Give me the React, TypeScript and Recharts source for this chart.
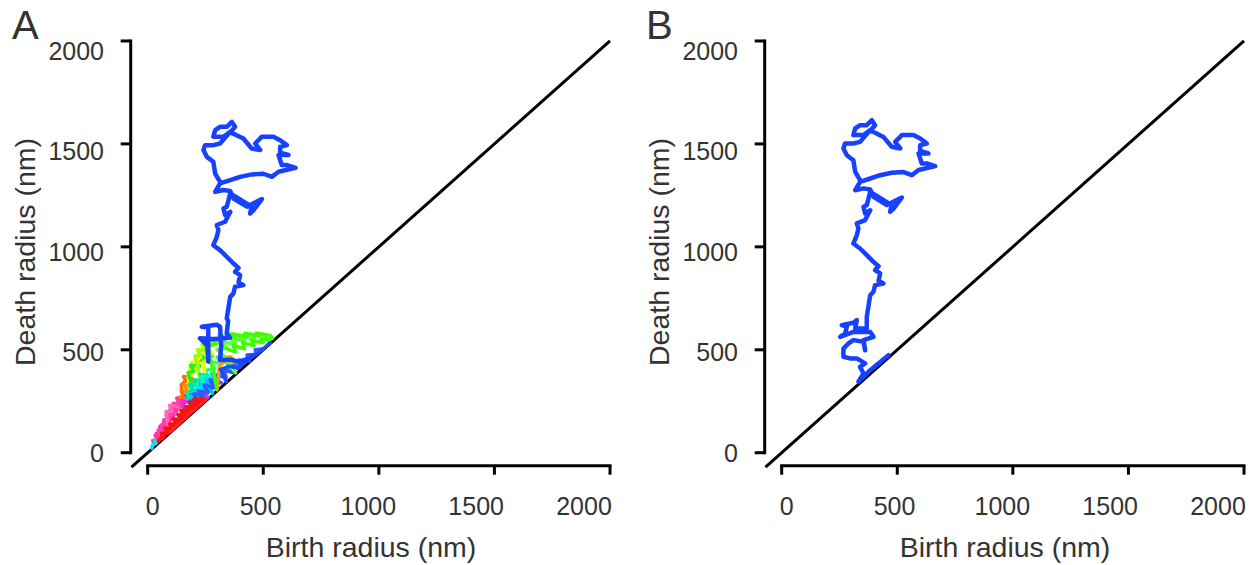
import { ScatterChart, Scatter, XAxis, YAxis, ReferenceLine } from "recharts";

const FONT = "'Liberation Sans', Arial, Helvetica, sans-serif";
const TEXT = "#333";
const BLUE = "#1840ff";

const axisTicks = [0, 500, 1000, 1500, 2000];
const xTitle = "Birth radius (nm)";
const yTitle = "Death radius (nm)";

// persistence path of the long-lived feature, panel B  [birth, death]
const blueB = [
  [462, 474], [383, 401], [332, 345], [354, 385], [339, 417], [361, 434], [325, 458], [296, 458],
  [267, 466], [267, 506], [289, 531], [310, 547], [354, 539], [361, 498], [354, 547], [397, 563],
  [383, 587], [310, 587], [253, 563], [274, 579], [282, 612], [260, 620], [310, 631], [325, 644],
  [318, 604], [368, 604], [368, 660], [375, 709], [383, 765], [397, 782], [404, 814], [440, 822],
  [419, 835], [426, 871], [404, 887], [419, 906], [397, 927], [368, 960], [339, 992], [310, 1016],
  [325, 1057], [332, 1089], [325, 1114], [361, 1130], [383, 1178], [361, 1162], [354, 1194], [368, 1203],
  [383, 1267], [476, 1203], [469, 1170], [484, 1186], [520, 1240], [455, 1203], [397, 1243], [383, 1279],
  [354, 1284], [318, 1275], [339, 1316], [383, 1332], [426, 1348], [476, 1360], [527, 1363], [563, 1348],
  [592, 1373], [664, 1392], [628, 1405], [606, 1405], [592, 1454], [635, 1454], [599, 1466], [599, 1494],
  [628, 1502], [599, 1526], [570, 1543], [520, 1543], [491, 1510], [513, 1478], [476, 1486], [440, 1534],
  [404, 1554], [383, 1564], [404, 1591], [390, 1615], [368, 1591], [339, 1591], [318, 1575], [310, 1543],
  [354, 1543], [383, 1567], [339, 1510], [310, 1502], [274, 1502], [267, 1478], [282, 1445], [310, 1421],
  [318, 1364], [339, 1324],
];

// same feature in panel A
const blueA = [
  [455, 470], [400, 440], [360, 452], [313, 450], [318, 520], [313, 612], [298, 622], [234, 612],
  [262, 608], [262, 442], [258, 520], [226, 556], [290, 552], [356, 558], [342, 580], [348, 640],
  [342, 652], [349, 701], [357, 757], [371, 774], [378, 806], [414, 814], [393, 827], [400, 863],
  [378, 879], [393, 898], [371, 919], [342, 952], [313, 984], [284, 1008], [299, 1049], [306, 1081],
  [299, 1106], [335, 1122], [357, 1170], [335, 1154], [328, 1186], [342, 1195], [357, 1259], [450, 1195],
  [443, 1162], [458, 1178], [494, 1232], [429, 1195], [371, 1235], [357, 1271], [328, 1276], [292, 1267],
  [313, 1308], [357, 1324], [400, 1340], [450, 1352], [501, 1355], [537, 1340], [566, 1365], [640, 1384],
  [602, 1397], [580, 1397], [566, 1446], [609, 1446], [573, 1458], [573, 1486], [602, 1494], [573, 1518],
  [544, 1535], [494, 1535], [465, 1502], [487, 1470], [450, 1478], [414, 1526], [378, 1546], [357, 1556],
  [378, 1583], [364, 1607], [342, 1583], [313, 1583], [292, 1567], [284, 1535], [328, 1535], [357, 1559],
  [313, 1502], [284, 1494], [248, 1494], [241, 1470], [256, 1437], [284, 1413], [292, 1356], [313, 1316],
];

// short-lived features, panel A
const purpleA = [[170, 178], [150, 250], [185, 245], [165, 280], [205, 275], [185, 300], [230, 290], [215, 315], [255, 300], [240, 325], [270, 310]];
const purpleB = [[260, 268], [230, 290], [270, 300], [250, 320], [290, 318], [275, 345], [320, 340]];
const tealA = [[190, 200], [170, 290], [195, 300], [180, 330], [215, 325], [200, 355], [240, 350], [225, 380], [260, 375]];
const tealB = [[230, 238], [215, 330], [245, 345], [230, 370], [270, 365]];
const cyanA = [[205, 215], [185, 275], [220, 270], [200, 305], [240, 300], [225, 335], [265, 325], [250, 360], [290, 350], [275, 385], [310, 375]];
const cyanB = [[280, 288], [255, 340], [300, 350], [280, 380], [330, 375], [310, 405], [360, 400], [345, 430], [390, 430]];
const blueFillA = [[240, 248], [220, 300], [260, 290], [245, 330], [285, 315], [270, 355], [310, 340], [300, 375], [340, 365], [330, 400], [370, 390], [365, 425], [400, 415], [395, 450], [440, 445], [430, 475], [470, 478], [465, 500], [500, 505]];
const blueFillB = [[200, 206], [180, 250], [215, 255], [200, 285], [240, 280]];
const blueDiagA = [[340, 345], [315, 405], [355, 420], [390, 410], [420, 440], [460, 470], [500, 505], [530, 535]];
const orangeA = [[150, 158], [135, 270], [160, 265], [145, 300], [175, 298], [160, 325], [190, 320], [170, 350], [200, 345], [185, 372]];
const orangeMid = [[160, 168], [145, 330], [165, 350], [155, 370], [185, 365]];
const yellowA = [[195, 205], [175, 370], [195, 380], [180, 410], [205, 405], [190, 440], [220, 430], [205, 460], [240, 455], [225, 480]];
const yellowTop = [[230, 240], [215, 450], [230, 470], [220, 500], [245, 505]];
const greenA = [[215, 225], [175, 390], [200, 395], [185, 425], [225, 420], [210, 450], [250, 445], [235, 475], [280, 470], [265, 500]];
const greenMid = [[280, 290], [250, 400], [290, 410], [270, 440], [320, 435], [300, 465], [350, 462]];
const yellowB = [[260, 268], [240, 440], [265, 455], [245, 485], [280, 480], [265, 505]];
const limeA = [[250, 258], [205, 470], [230, 475], [215, 500], [255, 495], [235, 525], [280, 520], [260, 545], [310, 540]];
const orangeB = [[300, 305], [310, 420], [335, 445], [320, 460], [360, 465], [375, 445], [355, 430]];
const greenTopA = [[300, 310], [260, 520], [300, 530], [270, 555], [330, 545], [310, 570], [380, 560], [360, 578], [430, 565], [420, 580], [480, 568], [470, 582], [530, 570], [540, 555], [490, 550], [500, 535], [450, 545], [460, 520], [410, 535], [420, 505], [370, 520], [380, 490], [340, 505]];
const greenTopB = [[380, 388], [330, 470], [300, 500], [340, 510], [320, 535], [380, 530], [360, 555], [420, 545], [400, 565], [460, 555], [450, 575], [510, 560], [525, 540]];
const magentaA = [[45, 60], [38, 95], [62, 92], [52, 125], [80, 120], [68, 150], [95, 148], [80, 180], [110, 175], [95, 205], [125, 200], [112, 230], [150, 228], [130, 255], [165, 250]];
const pinkA = [[28, 40], [22, 60], [40, 58], [32, 85], [55, 80], [45, 110], [70, 105], [58, 135], [85, 130], [70, 160], [100, 158], [85, 190], [115, 185], [98, 215], [130, 212], [110, 240], [140, 236], [125, 265]];
const pinkB = [[90, 100], [80, 200], [105, 200], [95, 230], [130, 225]];
const redA = [[40, 48], [55, 70], [65, 68], [60, 95], [90, 95], [75, 120], [110, 118], [95, 140], [130, 138], [110, 165], [150, 160], [130, 185], [170, 182], [145, 205], [190, 202], [165, 225], [210, 222], [180, 245], [230, 242], [200, 262], [245, 258]];
const redB = [[70, 78], [85, 110], [100, 108], [115, 140], [125, 132], [140, 170], [150, 158], [165, 195], [175, 185], [190, 218], [200, 208], [215, 240], [225, 232], [235, 265], [250, 255]];
const redC = [[100, 104], [120, 125], [140, 145], [160, 168], [185, 192], [205, 212], [228, 236], [250, 256]];
const cyanTipA = [[18, 22], [22, 40], [35, 45], [30, 60]];

type Series = { pts: number[][]; color: string; width: number };

const W = 3.5;
const seriesA: Series[] = [
  { pts: orangeA, color: "#ff8a00", width: W },
  { pts: orangeMid, color: "#ff7000", width: W },
  { pts: yellowA, color: "#fff000", width: W },
  { pts: greenA, color: "#22f022", width: W },
  { pts: greenMid, color: "#30ff60", width: W },
  { pts: yellowB, color: "#e8ff00", width: W },
  { pts: yellowTop, color: "#ffff00", width: W },
  { pts: limeA, color: "#9aff00", width: W },
  { pts: purpleA, color: "#9b30ff", width: W },
  { pts: purpleB, color: "#a040ff", width: W },
  { pts: tealA, color: "#00e8a0", width: W },
  { pts: tealB, color: "#00ffc0", width: W },
  { pts: cyanA, color: "#00d0ff", width: W },
  { pts: cyanB, color: "#00bfff", width: W },
  { pts: blueFillA, color: "#2a5cff", width: W },
  { pts: blueFillB, color: "#3060ff", width: W },
  { pts: orangeB, color: "#ff9d00", width: W },
  { pts: greenTopB, color: "#5cff3c", width: W },
  { pts: greenTopA, color: "#3cff00", width: W },
  { pts: blueDiagA, color: "#1f4bff", width: W },
  { pts: magentaA, color: "#ff20e0", width: W },
  { pts: pinkA, color: "#ff3fa0", width: W },
  { pts: pinkB, color: "#ff66b3", width: W },
  { pts: redB, color: "#ff0040", width: W },
  { pts: redA, color: "#ff1010", width: W },
  { pts: redC, color: "#ff2020", width: W },
  { pts: cyanTipA, color: "#00e5ff", width: W },
  { pts: blueA, color: BLUE, width: 4.5 },
];

const seriesB: Series[] = [{ pts: blueB, color: BLUE, width: 4.5 }];

const NoDot = () => <g />;

function XTick(props: any) {
  const { x, payload } = props;
  const v = payload.value;
  return (
    <text x={x + 5 - (31 * v) / 2000} y={515} textAnchor="middle" fontSize={25} fill={TEXT} fontFamily={FONT}>
      {v}
    </text>
  );
}

function YTick(props: any) {
  const { y, payload } = props;
  const v = payload.value;
  return (
    <text x={104} y={y + 9 + (10 * v) / 2000} textAnchor="end" fontSize={25} fill={TEXT} fontFamily={FONT}>
      {v}
    </text>
  );
}

function Panel({ letter, series }: { letter: string; series: Series[] }) {
  const black = { stroke: "#000", strokeWidth: 3, strokeLinecap: "square" as const, ifOverflow: "visible" as const };
  return (
    <ScatterChart width={634} height={565} margin={{ top: 24.5, right: 5.5, bottom: 0, left: 0 }}>
      <XAxis
        type="number"
        dataKey="x"
        domain={[-73.5, 2080]}
        allowDataOverflow
        ticks={axisTicks}
        interval={0}
        height={99.3}
        axisLine={false}
        stroke="#000"
        tickSize={9}
        tickLine={{ stroke: "#000", strokeWidth: 3 }}
        tick={XTick}
        label={{
          content: () => (
            <text x={371} y={557} textAnchor="middle" fontSize={28.5} fill={TEXT} fontFamily={FONT}>
              {xTitle}
            </text>
          ),
        }}
      />
      <YAxis
        type="number"
        dataKey="y"
        domain={[-63, 2080]}
        allowDataOverflow
        ticks={axisTicks}
        interval={0}
        width={130.7}
        axisLine={false}
        stroke="#000"
        tickSize={10}
        tickLine={{ stroke: "#000", strokeWidth: 3 }}
        tick={YTick}
        label={{
          content: () => (
            <g>
              <text x={12} y={39} fontSize={40} fill={TEXT} fontFamily={FONT}>
                {letter}
              </text>
              <text
                x={35}
                y={252}
                transform="rotate(-90, 35, 252)"
                textAnchor="middle"
                fontSize={28.5}
                fill={TEXT}
                fontFamily={FONT}
              >
                {yTitle}
              </text>
            </g>
          ),
        }}
      />
      <ReferenceLine segment={[{ x: 0, y: -63 }, { x: 2000, y: -63 }]} {...black} />
      <ReferenceLine segment={[{ x: -73.5, y: 0 }, { x: -73.5, y: 2000 }]} {...black} />
      <ReferenceLine
        segment={[{ x: -70, y: -70 }, { x: 2000, y: 2000 }]}
        stroke="#000"
        strokeWidth={3}
        ifOverflow="visible"
      />
      {series.map((s, i) => (
        <Scatter
          key={i}
          data={s.pts.map(([x, y]) => ({ x, y }))}
          fill={s.color}
          shape={NoDot}
          line={{ stroke: s.color, strokeWidth: s.width, strokeLinejoin: "round", strokeLinecap: "round" }}
          isAnimationActive={false}
        />
      ))}
    </ScatterChart>
  );
}

export default function App() {
  return (
    <div
      style={{
        position: "absolute",
        left: 0,
        top: 0,
        width: 1256,
        height: 565,
        overflow: "hidden",
        background: "#fff",
      }}
    >
      <div style={{ position: "absolute", left: 0, top: 0, width: 634, height: 565 }}>
        <Panel letter="A" series={seriesA} />
      </div>
      <div style={{ position: "absolute", left: 634, top: 0, width: 634, height: 565 }}>
        <Panel letter="B" series={seriesB} />
      </div>
    </div>
  );
}
